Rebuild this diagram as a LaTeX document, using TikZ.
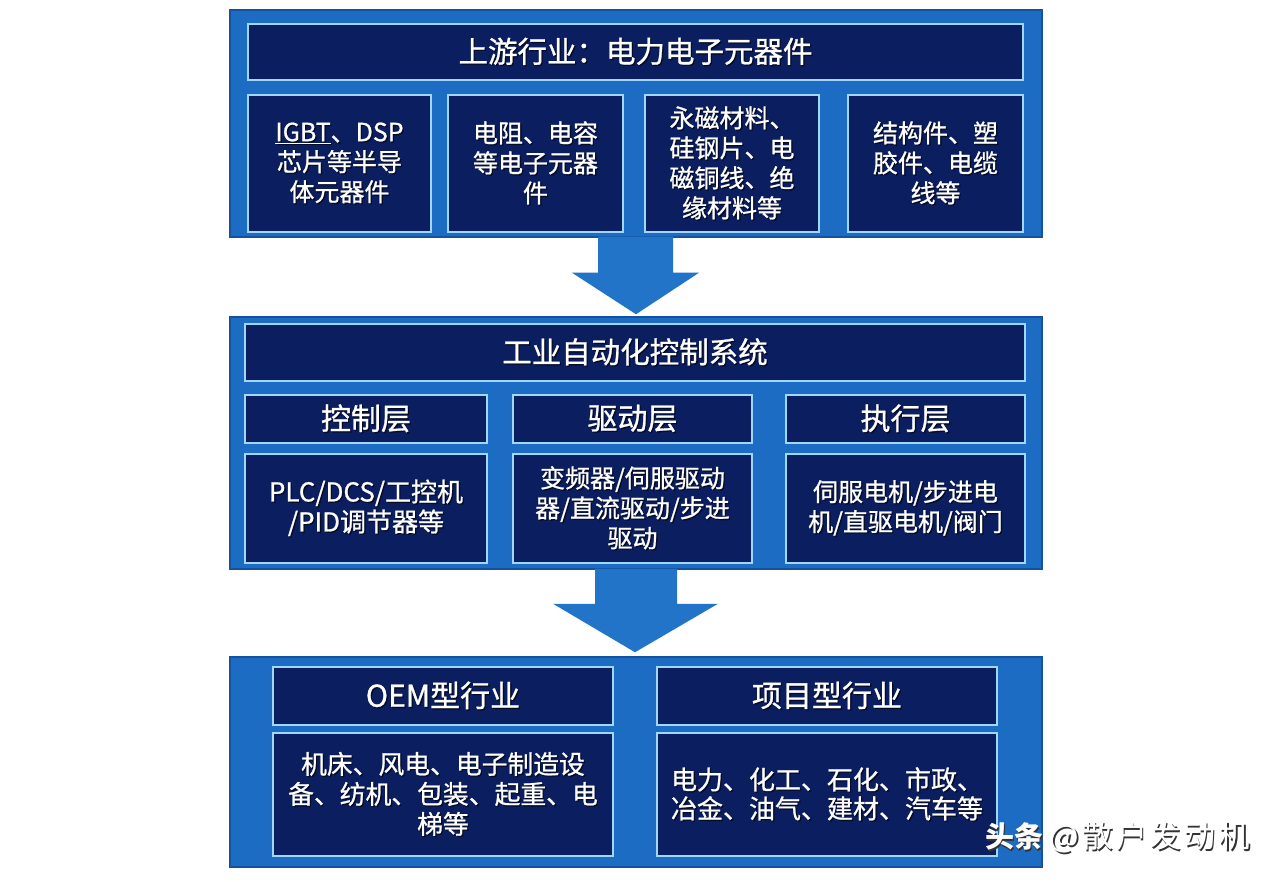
\documentclass[tikz,border=0pt]{standalone}
\usepackage{fontspec}
\setmainfont[FakeBold=0.9]{Noto Sans CJK SC}
\newfontfamily\wmfont{Noto Sans CJK SC}
\usetikzlibrary{calc}
\definecolor{panelblue}{RGB}{28,108,196}
\definecolor{paneledge}{RGB}{20,82,160}
\definecolor{navy}{RGB}{11,30,96}
\definecolor{lightedge}{RGB}{160,214,246}
\definecolor{arrowblue}{RGB}{34,116,200}
\definecolor{shadowc}{RGB}{5,12,40}
\newcommand\shd[1]{\leavevmode\rlap{\kern1.3pt\raisebox{-1.3pt}{\color{shadowc}#1}}#1}
\tikzset{
  panel/.style={draw=paneledge, line width=1.5pt, fill=panelblue, inner sep=0pt},
  ibox/.style={draw=lightedge, line width=2.2pt, fill=navy, inner sep=0pt, text=white, align=center},
  ttl/.style={ibox, font=\fontsize{29.5}{34}\selectfont},
  hdr/.style={ibox, font=\fontsize{30}{34}\selectfont},
  cnt/.style={ibox, font=\fontsize{25}{30}\selectfont},
  barrow/.style={fill=arrowblue, draw=none},
}
\begin{document}
\begin{tikzpicture}[x=1pt,y=-1pt]
\fill[white] (0,0) rectangle (1280,882);
\useasboundingbox (0,0) rectangle (1280,882);

% ---------- panel 1 ----------
\node[panel, minimum width=812, minimum height=227] (p1) at (636,123.5) {};
\node[ttl, minimum width=775, minimum height=56] (t1) at (635.5,52) {\shd{上游行业：电力电子元器件}};
\node[cnt, minimum width=183, minimum height=137] (b1) at (339.5,163.5) {\shd{\underline{IGBT}、DSP}\\\shd{芯片等半导}\\\shd{体元器件}};
\node[cnt, minimum width=175, minimum height=137] (b2) at (535.5,163.5) {\shd{电阻、电容}\\\shd{等电子元器}\\\shd{件}};
\node[cnt, minimum width=174, minimum height=137] (b3) at (732,163.5) {\shd{永磁材料、}\\\shd{硅钢片、电}\\\shd{磁铜线、绝}\\\shd{缘材料等}};
\node[cnt, minimum width=175, minimum height=137] (b4) at (935.5,163.5) {\shd{结构件、塑}\\\shd{胶件、电缆}\\\shd{线等}};

% ---------- panel 2 ----------
\node[panel, minimum width=812, minimum height=252] (p2) at (636,443) {};
\node[ttl, minimum width=780, minimum height=57] (t2) at (635,352.5) {\shd{工业自动化控制系统}};
\node[hdr, minimum width=242, minimum height=48] (h1) at (366,419) {\shd{控制层}};
\node[hdr, minimum width=239, minimum height=48] (h2) at (632.5,419) {\shd{驱动层}};
\node[hdr, minimum width=239, minimum height=48] (h3) at (905.5,419) {\shd{执行层}};
\node[cnt, minimum width=242, minimum height=109, font=\fontsize{26}{30}\selectfont] (c1) at (366,508.5) {\shd{PLC/DCS/工控机}\\\shd{/PID调节器等}};
\node[cnt, minimum width=239, minimum height=109] (c2) at (632.5,508.5) {\shd{变频器/伺服驱动}\\\shd{器/直流驱动/步进}\\\shd{驱动}};
\node[cnt, minimum width=239, minimum height=109] (c3) at (905.5,508.5) {\shd{伺服电机/步进电}\\\shd{机/直驱电机/阀门}};

% ---------- panel 3 ----------
\node[panel, minimum width=812, minimum height=210] (p3) at (636,762) {};
\node[hdr, minimum width=340, minimum height=58] (h4) at (443,696) {\shd{OEM型行业}};
\node[hdr, minimum width=340, minimum height=58] (h5) at (827,696) {\shd{项目型行业}};
\node[cnt, minimum width=340, minimum height=123, font=\fontsize{25.8}{30}\selectfont] (c4) at (443,794.5) {\shd{机床、风电、电子制造设}\\\shd{备、纺机、包装、起重、电}\\\shd{梯等}};
\node[cnt, minimum width=340, minimum height=123, font=\fontsize{26}{29}\selectfont] (c5) at (827,794.5) {\shd{电力、化工、石化、市政、}\\\shd{冶金、油气、建材、汽车等}};

% ---------- block arrows ----------
\fill[barrow] ($(p1.south)+(-38,-1)$) -- ($(p1.south)+(37,-1)$) -- ($(p1.south)+(37,35)$) -- ($(p1.south)+(63,35)$)
  -- ($(p2.north)+(0,-2)$) -- ($(p1.south)+(-64,35)$) -- ($(p1.south)+(-38,35)$) -- cycle;
\fill[barrow] ($(p2.south)+(-41,-1)$) -- ($(p2.south)+(41,-1)$) -- ($(p2.south)+(41,34)$) -- ($(p2.south)+(82,34)$)
  -- ($(p3.north)+(-1,-4)$) -- ($(p2.south)+(-83,34)$) -- ($(p2.south)+(-41,34)$) -- cycle;

% ---------- watermark ----------
\newcommand\wmtext{\textbf{头条} {\fontsize{31}{32}\selectfont\addfontfeature{LetterSpace=10}@散户发动机}}
\node[text=white, font=\wmfont\fontsize{29}{32}\selectfont, inner sep=0pt, anchor=west] (wm) at (985,838)
  {\rlap{\kern1.5pt\raisebox{-1.5pt}{\color{black!80}\wmtext}}\wmtext};
\end{tikzpicture}
\end{document}
